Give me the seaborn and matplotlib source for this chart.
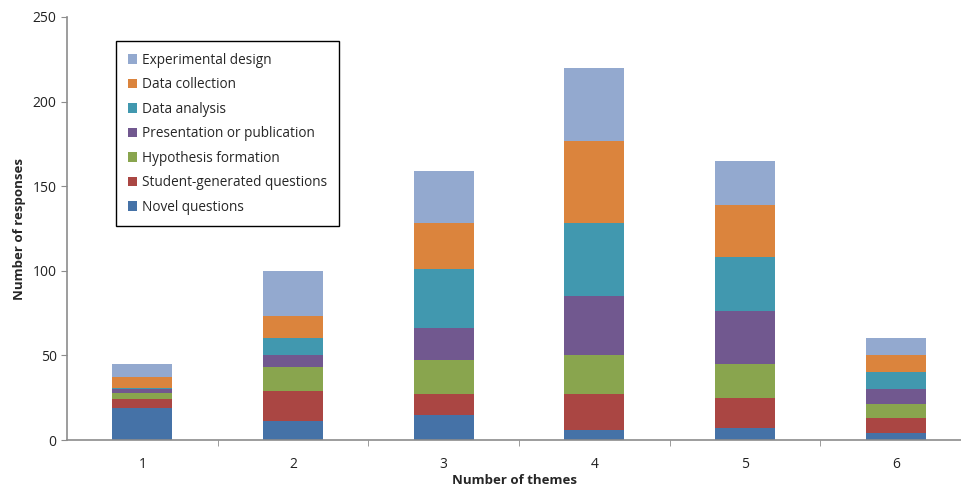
import numpy as np
import pandas as pd
import matplotlib
matplotlib.use('Agg')
import matplotlib.pyplot as plt
import seaborn as sns

# ---- data ----
themes = ['1', '2', '3', '4', '5', '6']
novel_questions = [19, 11, 15, 6, 7, 4]
student_questions = [5, 18, 12, 21, 18, 9]
hypothesis = [4, 14, 20, 23, 20, 8]
presentation = [2, 7, 19, 35, 31, 9]
data_analysis = [1, 10, 35, 43, 32, 10]
data_collection = [6, 13, 27, 49, 31, 10]
experimental_design = [8, 27, 31, 43, 26, 10]

series_names = ['Novel questions', 'Student-generated questions', 'Hypothesis formation',
                'Presentation or publication', 'Data analysis', 'Data collection',
                'Experimental design']
series_values = [novel_questions, student_questions, hypothesis, presentation,
                 data_analysis, data_collection, experimental_design]
colors = ['#4572A7', '#AA4643', '#89A54E', '#71588F', '#4198AF', '#DB843D', '#93A9CF']

sns.set_style('white')
plt.rcParams['font.family'] = ['Open Sans', 'DejaVu Sans']

fig = plt.figure(figsize=(9.62, 4.87), dpi=100)
ax = fig.add_axes([67 / 962, 47 / 487, 895 / 962, 423 / 487])

bottom = np.zeros(len(themes))
for name, vals, col in zip(series_names, series_values, colors):
    df = pd.DataFrame({'theme': themes, 'n': vals})
    sns.barplot(data=df, x='theme', y='n', color=col, bottom=bottom, width=0.4,
                label=name, ax=ax, saturation=1, linewidth=0, errorbar=None)
    bottom += np.array(vals)

ax.set_xlim(-0.5, 5.44)
ax.set_ylim(0, 250)
ax.set_yticks(range(0, 251, 50))
ax.set_xticks(range(len(themes)))
ax.set_xticks(np.arange(0.5, 5.5, 1), minor=True)

axis_col = '#8c8c8c'
for s in ['top', 'right']:
    ax.spines[s].set_visible(False)
for s in ['left', 'bottom']:
    ax.spines[s].set_color(axis_col)
    ax.spines[s].set_linewidth(1.2)
ax.tick_params(axis='y', which='major', direction='out', length=4, color=axis_col,
               labelsize=10, labelcolor='#222222', left=True)
ax.tick_params(axis='x', which='major', length=0, labelsize=10, labelcolor='#222222', pad=12)
ax.tick_params(axis='x', which='minor', direction='out', length=4, color=axis_col, bottom=True)

ax.set_xlabel('Number of themes', fontsize=9.5, fontweight='bold', labelpad=2)
ax.set_ylabel('Number of responses', fontsize=9.5, fontweight='bold', labelpad=5)

handles, labels = ax.get_legend_handles_labels()
leg = ax.legend(handles[::-1], labels[::-1], loc='upper left',
                bbox_to_anchor=(0.0547, 0.943), borderaxespad=0,
                fancybox=False, edgecolor='black', framealpha=1,
                fontsize=9.8, handlelength=0.7, handleheight=0.7,
                handletextpad=0.4, labelspacing=0.7, borderpad=0.85)
leg.get_frame().set_linewidth(1.0)

fig.savefig('out.png', dpi=100)
